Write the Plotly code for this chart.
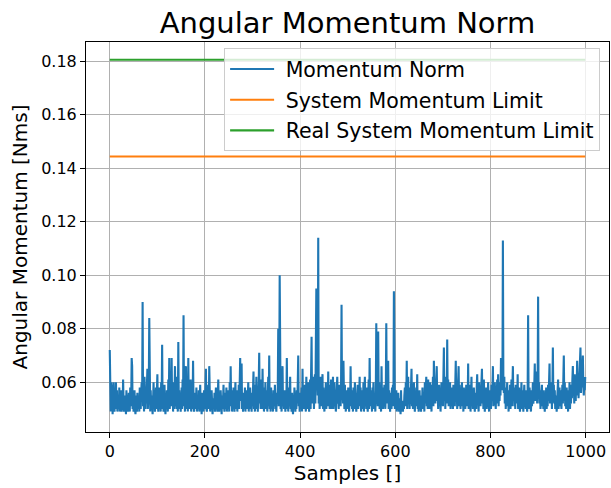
import plotly.graph_objects as go

# Momentum norm samples in mNms
momentum_mnms_rows = """
72 52 49 60 50 59 48 55 60 51 49 56 53 60 50 57 49 52 55 50 58 49 54 51 57 49 53 50 61 52 49 55 50 53 48 57 50 52 49 54 56 50 49 58 51 53 69 66 50 55
49 53 57 50 48 52 55 49 56 51 50 54 49 58 52 50 56 60 53 90 51 57 49 62 55 50 58 52 61 65 50 56 59 84 53 49 57 51 55 50 48 53 60 50 56 49 52 58 50 54
63 51 49 55 58 50 53 49 60 52 74 50 56 49 53 59 51 48 55 50 57 52 49 61 53 69 50 55 58 51 69 52 60 49 56 50 54 66 51 58 50 62 53 49 75 52 57 50 55 49
53 58 50 61 52 85 51 56 49 59 66 50 54 58 49 69 52 57 50 55 61 49 53 57 50 68 52 49 56 51 54 50 58 49 52 55 50 57 49 53 59 50 52 48 56 51 54 49 57 50
52 58 65 50 49 56 53 59 50 66 52 49 55 50 57 51 48 54 52 50 56 49 53 58 50 52 49 55 61 51 49 54 50 57 52 48 55 50 53 59 51 49 56 52 50 58 49 53 57 50
53 49 60 51 66 52 57 49 55 50 58 52 49 54 60 50 53 57 49 55 51 59 50 62 69 53 58 67 50 55 49 56 52 50 58 49 54 51 57 50 53 60 49 55 51 58 50 52 49 56
51 57 64 50 54 49 59 52 62 50 56 49 53 60 71 52 57 50 61 54 50 65 52 58 49 55 51 60 50 53 57 49 54 62 51 70 50 56 49 58 52 50 55 49 57 51 53 59 50 52
49 56 52 58 80 51 57 100 53 50 55 49 59 66 51 54 50 57 52 49 56 50 69 52 58 49 54 51 57 62 50 53 49 56 51 48 55 50 58 52 49 54 50 57 52 60 70 51 55 49
56 50 53 58 49 65 52 57 50 54 59 51 49 62 53 57 50 60 52 49 56 61 50 58 77 52 60 54 62 50 57 63 52 66 95 58 61 55 114 52 59 50 56 62 51 57 54 63 50 58
52 49 57 53 60 50 55 58 51 64 52 59 50 56 53 61 50 57 52 62 50 55 60 51 57 49 54 58 62 52 56 50 59 53 57 51 60 89 54 58 52 68 56 50 59 53 49 57 51 55
50 58 52 49 56 51 66 53 57 50 54 49 58 52 50 60 53 57 49 55 51 59 50 56 53 62 51 58 49 54 50 57 52 60 49 55 62 51 56 50 58 52 49 55 61 50 69 53 57 51
55 49 58 52 60 50 56 53 49 57 82 52 58 51 79 55 60 50 57 53 49 66 52 58 50 55 51 59 53 50 56 82 52 58 55 68 50 57 53 49 56 52 50 58 54 59 51 94 53 50
55 51 57 49 53 50 56 52 49 54 50 48 57 49 51 50 49 53 50 55 58 51 60 53 68 50 56 62 52 58 50 55 52 59 65 51 57 50 54 60 52 49 56 51 58 53 63 50 55 49
53 57 50 52 49 55 51 58 50 53 56 49 60 52 55 62 51 58 50 61 53 57 50 60 52 56 49 59 53 62 51 68 55 60 52 58 61 66 53 57 50 55 59 51 57 49 54 60 52 56
51 58 73 53 60 50 56 62 52 76 54 61 51 57 53 60 50 55 58 52 56 50 59 53 57 51 62 68 54 58 50 56 53 66 51 59 55 50 57 52 60 51 55 49 58 52 56 50 54 59
51 57 52 67 50 56 53 59 49 55 62 51 57 50 54 58 52 49 56 53 50 58 63 52 56 49 60 53 57 51 55 59 65 52 57 50 61 54 49 56 52 58 50 55 53 60 51 49 57 52
56 50 59 53 58 66 51 57 52 60 54 50 58 52 61 55 63 51 57 53 60 55 69 58 62 57 113 60 56 62 52 58 50 56 53 60 51 55 49 57 52 59 50 55 61 51 57 66 53 58
51 56 50 59 53 57 52 63 50 55 58 51 49 56 53 60 50 57 52 49 55 59 51 54 50 57 52 49 56 85 53 50 58 52 55 49 57 51 54 60 52 56 59 67 53 60 55 64 52 58
92 54 60 52 57 50 56 53 59 51 55 50 57 52 49 56 53 58 50 54 51 59 53 57 67 52 60 55 58 50 56 73 54 59 52 57 50 55 53 49 56 52 61 50 55 58 51 57 53 50
55 59 52 57 70 53 60 51 56 50 58 52 55 49 57 53 60 50 56 52 59 54 61 66 55 60 52 63 57 53 61 55 68 58 62 54 60 57 65 73 56 62 58 64 70 59 55 61 57 62
"""

momentum_norm = [int(v) / 1000.0 for v in momentum_mnms_rows.split()]
samples = list(range(len(momentum_norm)))

system_limit = 0.1444
real_system_limit = 0.1806

x_ticks = [0, 200, 400, 600, 800, 1000]
y_ticks = [0.06, 0.08, 0.10, 0.12, 0.14, 0.16, 0.18]

series_names = ["Momentum Norm", "System Momentum Limit", "Real System Momentum Limit"]

FONT = "DejaVu Sans"
NBSP = "\u00a0"

fig = go.Figure()
fig.add_trace(go.Scatter(
    x=samples, y=momentum_norm, mode="lines", name=NBSP + series_names[0],
    line=dict(color="#1f77b4", width=2.1), legendgroup="a"))
fig.add_trace(go.Scatter(
    x=samples, y=[system_limit] * len(samples), mode="lines",
    name=NBSP + series_names[1],
    line=dict(color="#ff7f0e", width=2.1), legendgroup="b"))
fig.add_trace(go.Scatter(
    x=samples, y=[real_system_limit] * len(samples), mode="lines",
    name=NBSP + series_names[2],
    line=dict(color="#2ca02c", width=2.1), legendgroup="c"))

n = len(samples)
xpad = 0.05 * (n - 1)
ymin = min(momentum_norm)
ymax = real_system_limit
ypad = 0.05 * (ymax - ymin)

axis_common = dict(
    showgrid=True, gridcolor="#b0b0b0", gridwidth=0.8,
    showline=True, linecolor="black", linewidth=1, mirror=True,
    ticks="outside", ticklen=5, tickcolor="black", tickwidth=1,
    zeroline=False,
    tickfont=dict(family=FONT, size=16, color="black"),
)

fig.update_layout(
    width=611, height=488,
    margin=dict(l=86, r=2, t=42, b=56),
    paper_bgcolor="white", plot_bgcolor="white",
    title=dict(text="Angular Momentum Norm", x=0.5, xref="paper",
               y=1 - 23 / 488, yref="container", yanchor="middle",
               font=dict(family=FONT, size=29, color="black")),
    xaxis=dict(range=[-xpad, (n - 1) + xpad], tickvals=x_ticks,
               ticktext=[str(t) for t in x_ticks],
               title=dict(text="Samples []", standoff=5,
                          font=dict(family=FONT, size=20, color="black")),
               **axis_common),
    yaxis=dict(range=[ymin - ypad, ymax + ypad], tickvals=y_ticks,
               ticktext=[f"{t:.2f}" for t in y_ticks],
               title=dict(text="Angular Momentum [Nms]", standoff=8,
                          font=dict(family=FONT, size=20, color="black")),
               **axis_common),
    legend=dict(x=0.983, y=0.984, xanchor="right", yanchor="top",
                bgcolor="rgba(255,255,255,0.8)", bordercolor="#cccccc",
                borderwidth=1, font=dict(family=FONT, size=20.5, color="black"),
                tracegroupgap=1, itemwidth=44, traceorder="grouped"),
    showlegend=True,
)

fig.write_html("out.html")
